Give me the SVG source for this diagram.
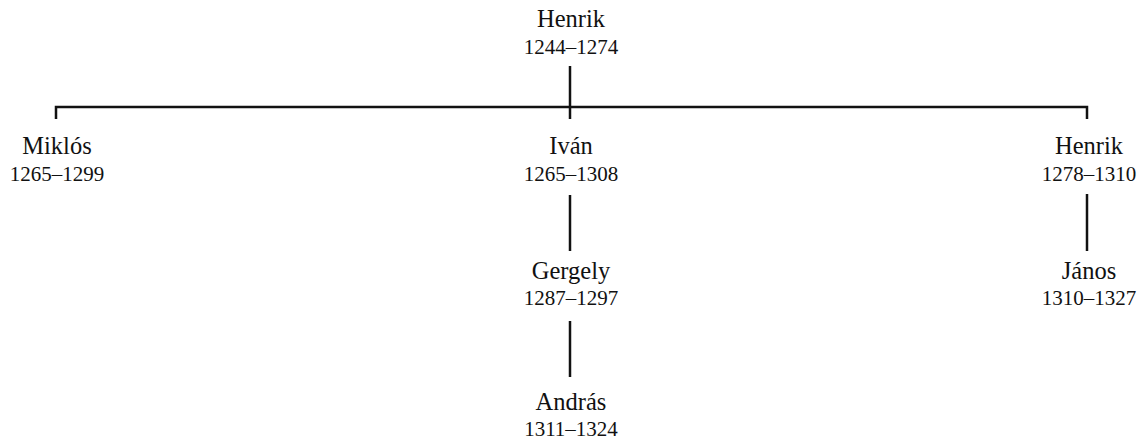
<svg xmlns="http://www.w3.org/2000/svg" width="1145" height="439" viewBox="0 0 1145 439">
<style>
.n{font-family:"Liberation Serif","Times New Roman",serif;font-size:24.5px;fill:#111;text-anchor:middle}
.d{font-family:"Liberation Serif","Times New Roman",serif;font-size:21px;fill:#111;text-anchor:middle}
.c{stroke:#111;stroke-width:2.5;fill:none}
</style>
<rect width="1145" height="439" fill="#fff"/>
<g id="connectors">
<line class="c" x1="570" y1="66" x2="570" y2="119"/>
<polyline class="c" points="56,119 56,107 1087,107 1087,119"/>
<line class="c" x1="570" y1="195" x2="570" y2="251"/>
<line class="c" x1="570" y1="321" x2="570" y2="377"/>
<line class="c" x1="1087" y1="194" x2="1087" y2="251"/>
</g>
<g id="henrik1"><text class="n" x="571" y="27">Henrik</text><text class="d" x="571" y="54">1244–1274</text></g>
<g id="miklos"><text class="n" x="57" y="154">Miklós</text><text class="d" x="57" y="181">1265–1299</text></g>
<g id="ivan"><text class="n" x="571" y="154">Iván</text><text class="d" x="571" y="181">1265–1308</text></g>
<g id="henrik2"><text class="n" x="1089" y="154">Henrik</text><text class="d" x="1089" y="181">1278–1310</text></g>
<g id="gergely"><text class="n" x="571" y="279">Gergely</text><text class="d" x="571" y="305">1287–1297</text></g>
<g id="janos"><text class="n" x="1089" y="279">János</text><text class="d" x="1089" y="305">1310–1327</text></g>
<g id="andras"><text class="n" x="571" y="410">András</text><text class="d" x="571" y="436">1311–1324</text></g>
</svg>
